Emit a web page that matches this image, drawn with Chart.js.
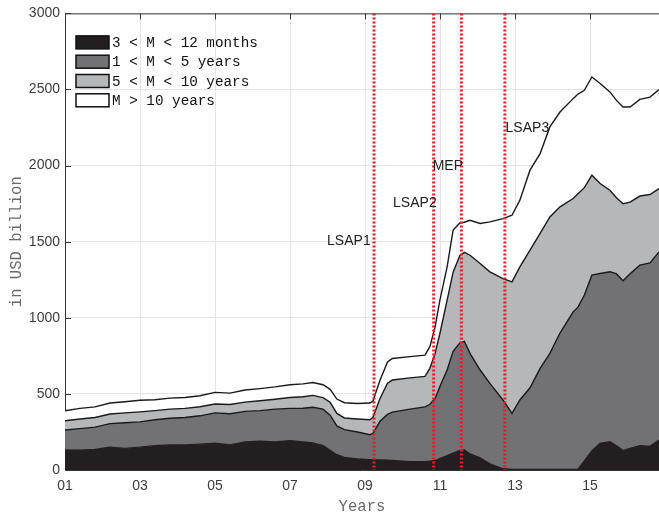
<!DOCTYPE html>
<html><head><meta charset="utf-8">
<script src="https://cdn.jsdelivr.net/npm/chart.js@4.4.0/dist/chart.umd.min.js"></script>
<style>html,body{margin:0;padding:0;background:#fff;}#wrap{width:659px;height:513px;}</style>
</head><body><div id="wrap"><canvas id="c" width="659" height="513"></canvas></div>
<script>
// ---- data (USD billion, stacked components) ----
const years = [2001.00,2001.40,2001.80,2002.20,2002.60,2003.00,2003.40,2003.80,2004.20,2004.60,
  2005.00,2005.40,2005.80,2006.20,2006.60,2007.00,2007.35,2007.61,2007.88,2008.07,
  2008.25,2008.45,2008.80,2009.13,2009.21,2009.40,2009.60,2009.73,2010.20,2010.60,
  2010.73,2010.87,2011.00,2011.19,2011.35,2011.53,2011.65,2011.80,2012.07,2012.33,
  2012.68,2012.92,2013.13,2013.40,2013.67,2013.93,2014.20,2014.55,2014.68,2014.85,
  2015.05,2015.27,2015.53,2015.70,2015.88,2016.07,2016.33,2016.60,2016.84];
const shortTerm = [131,130,135,150,142,150,160,165,165,170,176,165,185,190,185,193,185,178,160,130,
  100,82,72,68,66,66,64,62,55,55,58,62,75,95,110,128,131,105,80,40,
  8,3,3,3,3,3,3,3,5,60,125,175,186,160,127,142,160,155,197];
const oneToFive = [132,142,147,155,168,166,170,175,180,186,199,205,200,200,215,212,221,234,240,230,
  190,183,178,164,174,254,301,318,345,360,374,408,475,562,670,707,714,661,577,529,
  452,369,457,537,665,763,897,1036,1065,1090,1155,1116,1116,1130,1116,1148,1186,1206,1236];
const fiveToTen = [61,63,63,63,65,66,60,60,60,60,59,60,61,65,65,71,75,78,76,85,
  82,77,85,98,105,150,205,211,205,200,236,296,350,459,520,575,585,645,700,733,
  798,864,875,904,886,897,829,745,745,705,657,591,536,500,507,470,454,449,416];
const overTen = [65,70,70,72,73,76,72,72,71,72,76,75,80,80,81,84,85,85,84,85,
  94,100,102,110,107,120,140,142,140,140,142,174,220,219,276,213,198,230,263,328,
  394,438,438,526,525,591,623,656,655,640,645,657,646,640,635,625,635,640,651];
const seriesLabels = ['3 < M < 12 months','1 < M < 5 years','5 < M < 10 years','M > 10 years'];
const tickYears = [2001,2003,2005,2007,2009,2011,2013,2015];
const tickLabels = ['01','03','05','07','09','11','13','15'];
const yTicks = [0,500,1000,1500,2000,2500,3000];
const policyDates = [2009.24,2010.83,2011.57,2012.73];
const policyNames = ['LSAP1','LSAP2','MEP','LSAP3'];
const policyLabelX = [2008.57,2010.33,2011.21,2013.33];
const policyLabelY = [1503,1753,1996,2245];

const fills = ['#231f20','#727275','#b6b7b9','#ffffff'];
const series = [shortTerm, oneToFive, fiveToTen, overTen];

const datasets = series.map((arr,i) => ({
  label: seriesLabels[i],
  data: years.map((x,k) => ({x, y: arr[k]})),
  backgroundColor: fills[i],
  borderColor: i === 0 ? '#231f20' : '#1a1a1a',
  borderWidth: 1.4,
  pointRadius: 0,
  tension: 0,
  fill: i === 0 ? 'origin' : '-1'
}));

const overlay = {
  id: 'overlay',
  afterDatasetsDraw(chart, args, o) {
    const {ctx, chartArea: a, scales: {x, y}} = chart;
    ctx.save();
    // frame: top border and inward ticks
    ctx.strokeStyle = '#3a3a3a'; ctx.lineWidth = 1;
    ctx.beginPath();
    ctx.moveTo(a.left, a.top + 0.5); ctx.lineTo(a.right, a.top + 0.5);
    tickYears.forEach(v => {
      const px = Math.round(x.getPixelForValue(v)) + 0.5;
      ctx.moveTo(px, a.top); ctx.lineTo(px, a.top + 6);
    });
    yTicks.forEach(v => {
      const py = Math.round(y.getPixelForValue(v)) + 0.5;
      ctx.moveTo(a.left, py); ctx.lineTo(a.left + 6, py);
    });
    ctx.stroke();
    // policy lines
    ctx.strokeStyle = '#ee1a22'; ctx.lineWidth = 3;
    ctx.setLineDash([2, 2]);
    policyDates.forEach(d => {
      const px = x.getPixelForValue(d);
      ctx.beginPath(); ctx.moveTo(px, a.top); ctx.lineTo(px, a.bottom); ctx.stroke();
    });
    ctx.setLineDash([]);
    // policy labels
    ctx.fillStyle = '#222';
    ctx.font = '14px "Liberation Sans", Arial, sans-serif';
    ctx.textAlign = 'center'; ctx.textBaseline = 'middle';
    policyNames.forEach((n,i) => {
      ctx.fillText(n, x.getPixelForValue(policyLabelX[i]), y.getPixelForValue(policyLabelY[i]));
    });
    // legend
    ctx.font = '14.3px "Liberation Mono", "Courier New", monospace';
    ctx.textAlign = 'left';
    chart.data.datasets.forEach((ds, i) => {
      const cy = a.top + o.legendTop + i * o.legendStep;
      const lx = a.left + o.legendLeft;
      ctx.fillStyle = ds.backgroundColor;
      ctx.fillRect(lx, cy - 6.5, 33, 13);
      ctx.strokeStyle = '#111'; ctx.lineWidth = 1.5;
      ctx.strokeRect(lx, cy - 6.5, 33, 13);
      ctx.fillStyle = '#111';
      ctx.fillText(ds.label, lx + 36, cy + 1);
    });
    ctx.restore();
  }
};

new Chart(document.getElementById('c'), {
  type: 'line',
  data: { datasets },
  plugins: [overlay],
  options: {
    responsive: false,
    animation: false,
    devicePixelRatio: 1,
    layout: { padding: { top: 13, right: 0, left: 0, bottom: 0 } },
    plugins: {
      legend: { display: false },
      tooltip: { enabled: false },
      overlay: { legendTop: 29, legendStep: 19.3, legendLeft: 11 }
    },
    scales: {
      x: {
        type: 'linear', min: 2001, max: 2016.84,
        afterBuildTicks: ax => { ax.ticks = tickYears.map(v => ({value: v})); },
        afterFit: s => { s.height = 43; },
        grid: { color: '#e4e4e4', drawTicks: false },
        border: { color: '#333' },
        ticks: {
          padding: 8, color: '#3c3c3c',
          font: { family: '"Liberation Sans", Arial, sans-serif', size: 14 },
          callback: v => tickLabels[tickYears.indexOf(v)]
        },
        title: {
          display: true, text: 'Years', color: '#6a6a6a',
          font: { family: '"Liberation Mono", "Courier New", monospace', size: 15.6, lineHeight: 0.8 },
          padding: { top: 0, bottom: 0 }
        }
      },
      y: {
        stacked: true, min: 0, max: 3000,
        afterBuildTicks: ax => { ax.ticks = yTicks.map(v => ({value: v})); },
        afterFit: s => { s.width = 65; },
        grid: { color: '#e4e4e4', drawTicks: false },
        border: { color: '#333' },
        ticks: {
          padding: 5, color: '#3c3c3c',
          font: { family: '"Liberation Sans", Arial, sans-serif', size: 14 },
          callback: v => String(v)
        },
        title: {
          display: true, text: 'in USD billion', color: '#6a6a6a',
          font: { family: '"Liberation Mono", "Courier New", monospace', size: 15.6 },
          padding: { top: 7, bottom: 0 }
        }
      }
    }
  }
});
</script></body></html>
